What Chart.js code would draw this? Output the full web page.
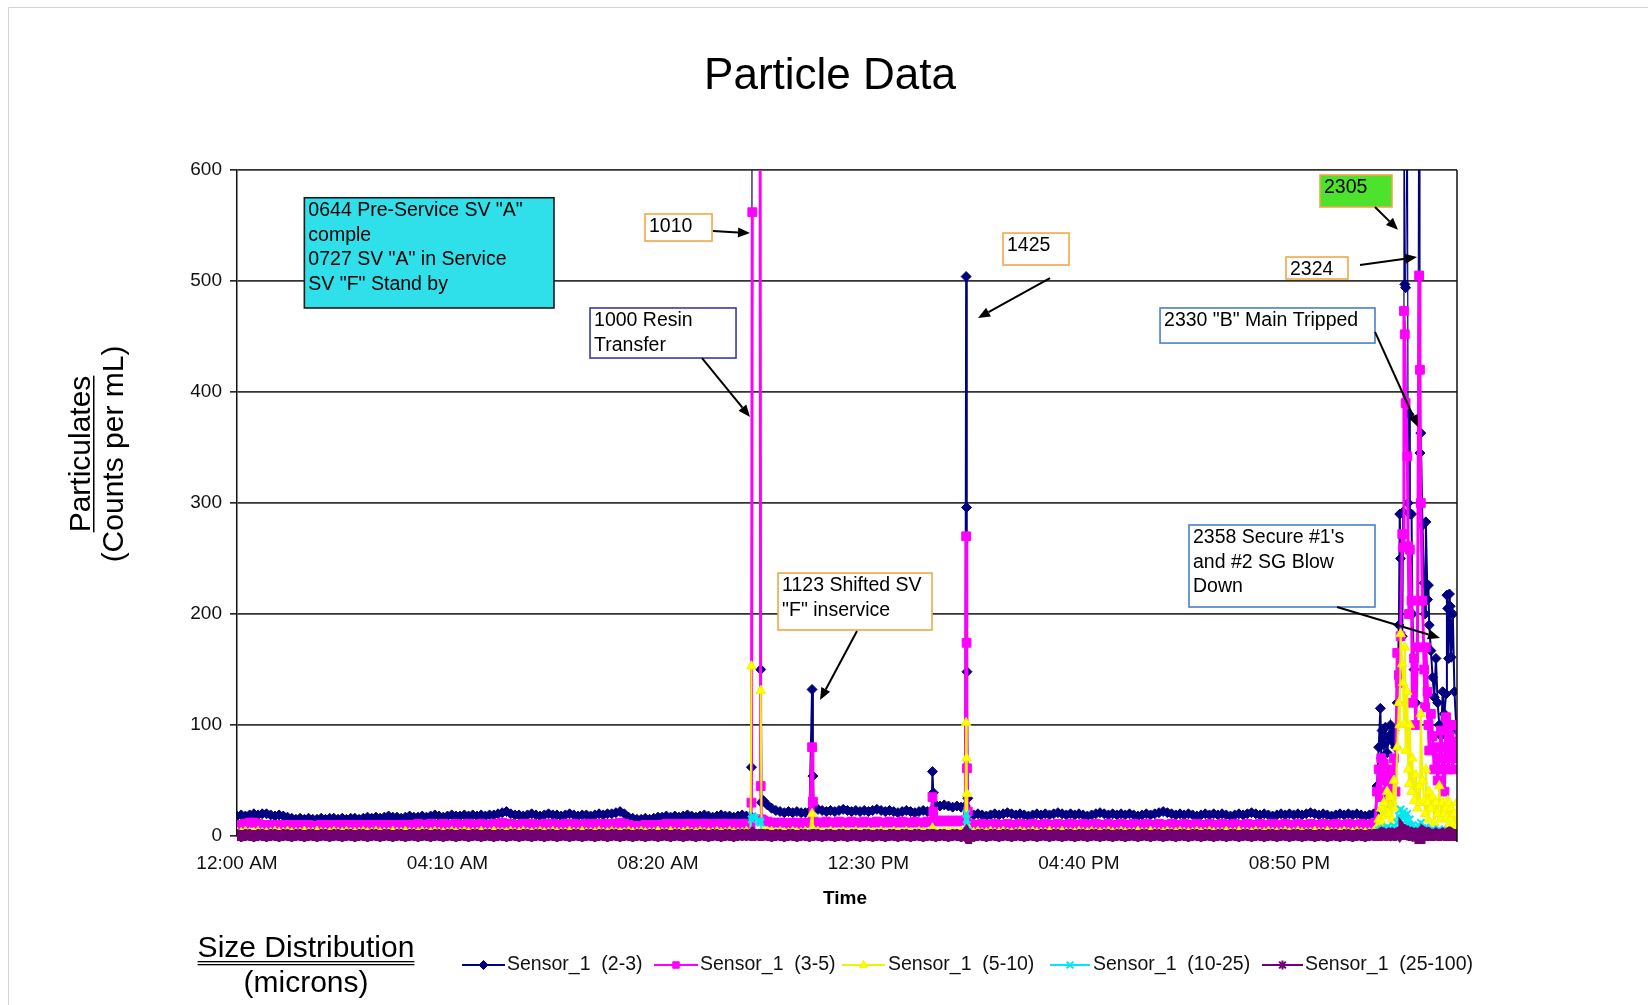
<!DOCTYPE html>
<html><head><meta charset="utf-8">
<style>html,body{margin:0;padding:0;background:#fff;}canvas{display:block;}</style>
<script src="https://cdn.jsdelivr.net/npm/chart.js"></script>
</head><body>
<canvas id="c" width="1648" height="1005"></canvas>
<script>
// ---------------- DATA ----------------
const tickMinutes = [0, 250, 500, 750, 1000, 1250];
const tickLabels = ['12:00 AM', '04:10 AM', '08:20 AM', '12:30 PM', '04:40 PM', '08:50 PM'];
const seriesNames = ['Sensor_1  (2-3)', 'Sensor_1  (3-5)', 'Sensor_1  (5-10)', 'Sensor_1  (10-25)', 'Sensor_1  (25-100)'];

// regular readings every 5 minutes from 12:00 AM to 10:30 PM (index * 5 = minutes)
const baseStep = 5;
const base23 = [
18,19,18,19,20,19,20,20,19,18, 19,18,17,16,15,16,15,16,15,15, 16,15,16,16,15,16,15,16,16,15, 16,17,16,17,16,17,18,17,17,16,
17,18,17,17,18,17,18,19,18,17, 18,19,18,18,19,18,19,18,19,18, 19,19,20,21,22,20,19,19,18,19, 20,19,18,19,20,19,19,18,19,20,
19,18,19,19,18,19,20,19,20,20, 21,22,20,17,16,15,15,16,15,16, 17,17,18,17,18,17,18,19,18,17, 18,19,18,17,18,19,18,18,17,18,
19,18,18,1100,1000,32,28,25,23,22, 21,22,21,22,21,21,22,26,24,23, 22,23,22,23,24,23,22,23,22,23, 22,23,24,23,22,23,22,21,22,23,
22,21,22,23,22,23,28,27,28,27, 26,27,26,27,20,19,20,19,18,19, 20,19,20,21,20,19,20,19,18,19, 20,19,20,19,20,21,20,19,20,19,
20,19,18,19,20,21,20,19,20,19, 20,19,20,19,18,19,20,19,20,21, 22,21,20,19,20,19,20,19,18,19, 20,19,20,19,20,19,18,19,20,19,
20,21,20,19,20,19,18,19,20,19, 20,19,20,19,20,21,20,19,20,19, 18,19,20,19,20,19,20,19,18,19, 20];
const base35 = [
10,10,11,12,12,11,10,10,10,10, 10,10,10,10,9,10,9,10,9,9, 10,9,10,10,9,10,9,10,10,9, 10,10,9,10,10,10,10,10,10,10,
10,10,10,11,10,10,11,10,10,11, 10,10,11,10,10,11,10,10,11,10, 10,11,11,12,11,11,10,10,11,10, 11,10,10,11,10,11,10,10,11,10,
11,10,10,11,10,11,10,11,10,11, 11,12,11,10,9,9,9,10,9,10, 10,10,11,10,11,10,11,10,11,10, 11,11,10,11,10,11,11,10,11,10,
11,11,11,null,null,14,13,12,12,12, 12,11,12,12,11,12,12,13,12,12, 13,12,12,13,12,12,13,12,12,13, 12,12,13,12,12,13,12,12,13,12,
12,13,12,12,13,13,14,13,14,13, 14,13,14,14,11,10,10,11,10,10, 11,10,10,11,10,10,11,10,10,11, 10,10,11,10,10,11,10,10,11,10,
10,11,10,10,11,10,10,11,10,10, 11,10,10,11,10,10,11,10,10,11, 10,10,11,10,10,11,10,10,11,10, 10,11,10,10,11,10,10,11,10,10,
11,10,10,11,10,10,11,10,10,11, 10,10,11,10,10,11,10,10,11,10, 10,11,10,10,11,10,10,11,10,10, 11];
const base510 = [
3,3,4,3,3,4,3,3,3,4, 3,3,4,3,3,3,4,3,3,4, 3,3,3,4,3,3,4,3,3,3, 4,3,3,4,3,3,3,4,3,3,
4,3,3,3,4,3,3,4,3,3, 3,4,3,3,4,3,3,3,4,3, 3,4,3,3,3,4,3,3,4,3, 3,3,4,3,3,4,3,3,3,4,
3,3,4,3,3,3,4,3,3,4, 3,3,3,4,3,3,4,3,3,3, 4,3,3,4,3,3,3,4,3,3, 4,3,3,3,4,3,3,4,3,3,
3,4,3,null,null,5,4,4,3,4, 3,3,4,3,3,4,3,3,4,3, 3,4,3,3,4,3,3,4,3,3, 4,3,3,4,3,3,4,3,3,4,
3,3,4,3,3,4,4,3,4,3, 4,3,4,4,3,3,4,3,3,4, 3,3,4,3,3,3,4,3,3,4, 3,3,3,4,3,3,4,3,3,3,
4,3,3,4,3,3,3,4,3,3, 4,3,3,3,4,3,3,4,3,3, 3,4,3,3,4,3,3,3,4,3, 3,4,3,3,3,4,3,3,4,3,
3,3,4,3,3,4,3,3,3,4, 3,3,4,3,3,3,4,3,3,4, 3,3,3,4,3,3,4,3,3,3, 4];
const base1025 = [
1,2,1,1,2,1,1,2,1,1, 2,1,1,2,1,1,2,1,1,2, 1,1,2,1,1,2,1,1,2,1, 1,2,1,1,2,1,1,2,1,1,
2,1,1,2,1,1,2,1,1,2, 1,1,2,1,1,2,1,1,2,1, 1,2,1,1,2,1,1,2,1,1, 2,1,1,2,1,1,2,1,1,2,
1,1,2,1,1,2,1,1,2,1, 1,2,1,1,2,1,1,2,1,1, 2,1,1,2,1,1,2,1,1,2, 1,1,2,1,1,2,1,1,2,1,
1,2,1,16,13,3,2,2,1,2, 1,1,2,1,1,2,1,1,2,1, 1,2,1,1,2,1,1,2,1,1, 2,1,1,2,1,1,2,1,1,2,
1,1,2,1,1,2,2,1,2,1, 2,1,2,2,1,1,2,1,1,2, 1,1,2,1,1,2,1,1,2,1, 1,2,1,1,2,1,1,2,1,1,
2,1,1,2,1,1,2,1,1,2, 1,1,2,1,1,2,1,1,2,1, 1,2,1,1,2,1,1,2,1,1, 2,1,1,2,1,1,2,1,1,2,
1,1,2,1,1,2,1,1,2,1, 1,2,1,1,2,1,1,2,1,1, 2,1,1,2,1,1,2,1,1,2, 1];
const base25100 = [
1,0,1,1,0,1,1,0,1,1, 0,1,1,0,1,1,0,1,1,0, 1,1,0,1,1,0,1,1,0,1, 1,0,1,1,0,1,1,0,1,1,
0,1,1,0,1,1,0,1,1,0, 1,1,0,1,1,0,1,1,0,1, 1,0,1,1,0,1,1,0,1,1, 0,1,1,0,1,1,0,1,1,0,
1,1,0,1,1,0,1,1,0,1, 1,0,1,1,0,1,1,0,1,1, 0,1,1,0,1,1,0,1,1,0, 1,1,0,1,1,0,1,1,0,1,
1,1,1,1,1,1,1,0,1,1, 0,1,1,0,1,1,0,1,1,0, 1,1,0,1,1,0,1,1,0,1, 1,0,1,1,0,1,1,0,1,1,
0,1,1,0,1,1,0,1,1,0, 1,1,0,1,1,0,1,1,0,1, 1,0,1,1,0,1,1,0,1,1, 0,1,1,0,1,1,0,1,1,0,
1,1,0,1,1,0,1,1,0,1, 1,0,1,1,0,1,1,0,1,1, 0,1,1,0,1,1,0,1,1,0, 1,1,0,1,1,0,1,1,0,1,
1,0,1,1,0,1,1,0,1,1, 0,1,1,0,1,1,0,1,1,0, 1,1,0,1,1,0,1,1,0,1, 1];

// extra readings around the events (minutes since midnight)
const eventTimes = [611, 612, 613, 621, 622, 623, 683, 684, 826, 827, 866, 866.5, 867, 868];
const event23    = [62, 900, 1000, 800, 150, 30, 132, 54, 58, 39, 504, 296, 148, 34];
const event35    = [30, 562, null, 900, 45, 15, 80, 31, 35, 22, 270, 174, 61, 22];
const event510   = [153, null, null, null, 131, 5, 20, 6, 7, 5, 102, 70, 38, 8];
const event1025  = [15, 18, 17, 14, 12, 3, 3, 2, 3, 2, 20, 15, 10, 4];
const event25100 = [1, 1, 2, 1, 1, 1, 1, 1, 1, 1, 2, 1, 1, 1];

// late-evening burst (22:32 to 24:09)
const clusterTimes = [1352,1354,1356,1358,1359,1360,1362,1364,1366,1368,1370,1372,1374,1376,1378,1380,1381,1382,1384,1385,1386,1387,1388,1390,1391,1392,1393,1395,1396,1398,1400,1402,1404,1405,1406,1408,1410,1411,1412,1414,1415,1416,1418,1420,1422,1424,1426,1428,1430,1432,1434,1436,1437,1438,1439,1440,1441,1442,1444,1446,1448,1449];
const cluster23 = [20,45,80,115,70,95,82,98,75,90, 100,85,95,80,120,190,290,250,180,292, 720,497,494,680,300,380,290,290,200,150, 120,170,820,345,363,280,228,200,283,213, 226,190,167,143,125,160,120,100,90,130, 110,128,217,205,160,218,207,161,200,130, 100,95];
const cluster35 = [12,40,60,35,70,50,65,40,55,30, 60,45,70,40,165,145,138,180,272,260, 473,452,390,342,261,200,258,212,120,160, 100,170,505,420,300,212,150,116,170,130, 100,77,110,90,60,80,50,70,95,60, 40,107,80,100,60,90,70,100,60,85, 70,100];
const cluster510 = [3,8,15,10,25,12,30,18,40,20, 35,15,50,25,80,120,100,182,155,138, 101,170,77,130,60,47,100,40,70,32, 55,25,45,30,110,50,32,20,60,30, 15,40,25,35,12,30,20,45,15,30, 20,25,17,32,10,30,15,25,10,20, 8,30];
const cluster1025 = [1,3,5,4,6,5,7,4,8,5, 7,4,9,6,12,18,15,24,20,16, 22,18,14,20,10,8,15,7,10,5, 8,4,9,6,12,7,5,3,8,4, 3,5,3,6,2,4,3,6,2,4, 3,4,2,5,2,4,2,3,2,3, 1,3];
const cluster25100 = [1,1,1,2,1,1,2,1,1,2, 1,2,1,1,2,3,2,3,2,2, 3,2,2,3,2,1,2,1,2,1, 2,1,2,1,2,1,1,1,2,1, 1,2,1,1,1,2,1,1,1,2, 1,1,1,2,1,1,1,2,1,1, 1,1];

// annotation texts
const noteTexts = [
  ['0644 Pre-Service SV "A"', 'comple', '0727 SV "A" in Service', 'SV "F" Stand by'],
  ['1010'],
  ['1000 Resin', 'Transfer'],
  ['1425'],
  ['1123 Shifted SV', '"F" inservice'],
  ['2305'],
  ['2324'],
  ['2330 "B" Main Tripped'],
  ["2358 Secure #1's", 'and #2 SG Blow', 'Down']
];

// ---------------- BUILD ----------------
const FONT = "'Liberation Sans', Arial, Helvetica, sans-serif";
function buildSeries(base, ev, cl) {
  const pts = [];
  base.forEach((v, i) => pts.push({x: i * baseStep, y: v}));
  ev.forEach((v, i) => pts.push({x: eventTimes[i], y: v}));
  cl.forEach((v, i) => pts.push({x: clusterTimes[i], y: v}));
  pts.sort((a, b) => a.x - b.x);
  return pts;
}
const seriesData = [
  buildSeries(base23, event23, cluster23),
  buildSeries(base35, event35, cluster35),
  buildSeries(base510, event510, cluster510),
  buildSeries(base1025, event1025, cluster1025),
  buildSeries(base25100, event25100, cluster25100)
];
const styles = [
  {color: '#000080', fill: '#000080', point: 'rectRot', r: 5, bw: 2, pbw: 1, order: 5},
  {color: '#ff00ff', fill: '#ff00ff', point: 'rect', r: 6.2, bw: 3, pbw: 1, order: 4},
  {color: '#f2f200', fill: '#ffff00', point: 'triangle', r: 5.5, bw: 2, pbw: 1, order: 3},
  {color: '#00e8f0', fill: '#00ffff', point: 'crossRot', r: 5, bw: 1.5, pbw: 2, order: 2},
  {color: '#730073', fill: '#730073', point: 'star', r: 6, bw: 11, pbw: 2.5, order: 1}
];

// annotation geometry in data units [t0, v0, t1, v1] and arrows [t0,v0,t1,v1]
const noteGeom = [
  {box: [80, 575, 376.5, 475.7], fill: '#2fe0ea', stroke: '#1a1a1a'},
  {box: [484.6, 560.4, 564.2, 536], fill: '#fff', stroke: '#f0a848', arrow: [565.3, 545, 609.3, 543.2]},
  {box: [419.3, 475.7, 592.7, 430.6], fill: '#fff', stroke: '#3a3aa0', arrow: [552.3, 430.6, 609.3, 377.5]},
  {box: [909.8, 543.2, 988.2, 514.4], fill: '#fff', stroke: '#f0a848', arrow: [965.6, 502.7, 880.1, 466.7]},
  {box: [642.6, 236.9, 825.5, 185.6], fill: '#fff', stroke: '#f0a848', arrow: [736.4, 184.7, 692.5, 122.5]},
  {box: [1286.3, 595.5, 1371.8, 566.7], fill: '#4de22c', stroke: '#f0a848', arrow: [1351.6, 566.7, 1378.9, 546.1]},
  {box: [1245.9, 521.6, 1319.5, 501.8], fill: '#fff', stroke: '#f0a848', arrow: [1333.8, 514.4, 1401.5, 521.6]},
  {box: [1096.3, 475.7, 1351.6, 444.1], fill: '#fff', stroke: '#4a80c8', arrow: [1351.6, 454.1, 1402.7, 368.5]},
  {box: [1130.7, 280.2, 1351.6, 206.3], fill: '#fff', stroke: '#4a80c8', arrow: [1306.5, 206.3, 1428.8, 178.4]}
];

function drawMarker(ctx, style, x, y, r, color, fill) {
  ctx.save();
  ctx.fillStyle = fill; ctx.strokeStyle = color; ctx.lineWidth = 1;
  ctx.beginPath();
  if (style === 'rectRot') {
    ctx.moveTo(x, y - r); ctx.lineTo(x + r, y); ctx.lineTo(x, y + r); ctx.lineTo(x - r, y); ctx.closePath(); ctx.fill(); ctx.stroke();
  } else if (style === 'rect') {
    const s = r * 0.72; ctx.rect(x - s, y - s, 2 * s, 2 * s); ctx.fill(); ctx.stroke();
  } else if (style === 'triangle') {
    ctx.moveTo(x, y - r); ctx.lineTo(x + r * 0.87, y + r * 0.5); ctx.lineTo(x - r * 0.87, y + r * 0.5); ctx.closePath(); ctx.fill(); ctx.stroke();
  } else if (style === 'crossRot') {
    ctx.lineWidth = 2; const s = r * 0.75;
    ctx.moveTo(x - s, y - s); ctx.lineTo(x + s, y + s); ctx.moveTo(x + s, y - s); ctx.lineTo(x - s, y + s); ctx.stroke();
  } else if (style === 'star') {
    ctx.lineWidth = 2; const s = r * 0.75;
    ctx.moveTo(x - s, y - s); ctx.lineTo(x + s, y + s); ctx.moveTo(x + s, y - s); ctx.lineTo(x - s, y + s);
    ctx.moveTo(x, y - r); ctx.lineTo(x, y + r); ctx.moveTo(x - r, y); ctx.lineTo(x + r, y); ctx.stroke();
  }
  ctx.restore();
}

function arrow(ctx, x1, y1, x2, y2) {
  const ang = Math.atan2(y2 - y1, x2 - x1), L = 12, W = 5;
  const bx = x2 - L * Math.cos(ang), by = y2 - L * Math.sin(ang);
  ctx.save();
  ctx.strokeStyle = '#000'; ctx.fillStyle = '#000'; ctx.lineWidth = 2;
  ctx.beginPath(); ctx.moveTo(x1, y1); ctx.lineTo(bx, by); ctx.stroke();
  ctx.beginPath(); ctx.moveTo(x2, y2);
  ctx.lineTo(bx + W * Math.sin(ang), by - W * Math.cos(ang));
  ctx.lineTo(bx - W * Math.sin(ang), by + W * Math.cos(ang));
  ctx.closePath(); ctx.fill();
  ctx.restore();
}

const deco = {
  id: 'deco',
  afterDraw(chart) {
    const {ctx, chartArea: a} = chart;
    const xs = chart.scales.x, ys = chart.scales.y;
    const px = t => xs.getPixelForValue(t), py = v => ys.getPixelForValue(v);
    ctx.save();
    // outer light frame
    ctx.strokeStyle = '#d4d4d4'; ctx.lineWidth = 1;
    ctx.beginPath(); ctx.moveTo(8.5, 1005); ctx.lineTo(8.5, 7.5); ctx.lineTo(1648, 7.5); ctx.stroke();
    // right plot border
    ctx.strokeStyle = '#111'; ctx.lineWidth = 1.5;
    ctx.beginPath(); ctx.moveTo(a.right, a.top); ctx.lineTo(a.right, a.bottom + 6); ctx.stroke();

    ctx.fillStyle = '#000';
    // title
    ctx.font = '44px ' + FONT; ctx.textAlign = 'center'; ctx.textBaseline = 'middle';
    ctx.fillText('Particle Data', 830, 77);
    // x title
    ctx.font = 'bold 19px ' + FONT;
    ctx.fillText('Time', 845, 899);
    // y title
    ctx.save();
    ctx.translate(79, 454); ctx.rotate(-Math.PI / 2);
    ctx.font = '30px ' + FONT; ctx.textBaseline = 'alphabetic';
    ctx.fillText('Particulates', 0, 11);
    const pw = ctx.measureText('Particulates').width;
    ctx.fillRect(-pw / 2, 14, pw, 1.5);
    ctx.fillText('(Counts per mL)', 0, 44);
    ctx.restore();
    // Size distribution label
    ctx.font = '30px ' + FONT; ctx.textAlign = 'center'; ctx.textBaseline = 'alphabetic';
    ctx.fillText('Size Distribution', 306, 957);
    const sw = ctx.measureText('Size Distribution').width;
    ctx.fillRect(306 - sw / 2, 961, sw, 1.3);
    ctx.fillRect(306 - sw / 2, 964, sw, 1.3);
    ctx.fillText('(microns)', 306, 992);

    // legend
    const legX = [[462, 505, 507], [654, 698, 700], [842, 885, 888], [1050, 1090, 1093], [1262, 1303, 1305]];
    const ly = 965;
    ctx.font = '19.5px ' + FONT; ctx.textAlign = 'left'; ctx.textBaseline = 'middle';
    seriesNames.forEach((n, i) => {
      const st = styles[i], [x0, x1, tx] = legX[i];
      ctx.strokeStyle = st.color; ctx.lineWidth = 2;
      ctx.beginPath(); ctx.moveTo(x0, ly); ctx.lineTo(x1, ly); ctx.stroke();
      drawMarker(ctx, st.point, (x0 + x1) / 2, ly, 4.5, st.color, st.fill);
      ctx.fillStyle = '#111';
      ctx.fillText(n, tx, ly);
    });

    // annotations
    ctx.font = '19.5px ' + FONT; ctx.textAlign = 'left'; ctx.textBaseline = 'middle';
    noteGeom.forEach((g, i) => {
      const x0 = px(g.box[0]), y0 = py(g.box[1]), x1 = px(g.box[2]), y1 = py(g.box[3]);
      ctx.fillStyle = g.fill; ctx.fillRect(x0, y0, x1 - x0, y1 - y0);
      ctx.strokeStyle = g.stroke; ctx.lineWidth = 1.6; ctx.strokeRect(x0, y0, x1 - x0, y1 - y0);
      ctx.fillStyle = '#000';
      noteTexts[i].forEach((line, k) => ctx.fillText(line, x0 + 4, y0 + 13 + k * 24.5));
      if (g.arrow) arrow(ctx, px(g.arrow[0]), py(g.arrow[1]), px(g.arrow[2]), py(g.arrow[3]));
    });
    ctx.restore();
  }
};

const offChart = c => c.p0.parsed.y > 600 || c.p1.parsed.y > 600;

new Chart(document.getElementById('c'), {
  type: 'line',
  data: {
    datasets: seriesData.map((d, i) => ({
      label: seriesNames[i],
      data: d,
      borderColor: styles[i].color,
      backgroundColor: styles[i].fill,
      pointBackgroundColor: styles[i].fill,
      pointBorderColor: styles[i].color,
      pointStyle: styles[i].point,
      pointRadius: styles[i].r,
      pointBorderWidth: styles[i].pbw,
      borderWidth: styles[i].bw,
      tension: 0,
      spanGaps: false,
      order: styles[i].order,
      segment: i === 0 ? {borderWidth: c => offChart(c) ? 1.2 : undefined} : undefined,
      clip: {left: 0, top: 0, right: 0, bottom: 8}
    }))
  },
  options: {
    responsive: false,
    animation: false,
    devicePixelRatio: 1,
    events: [],
    layout: {padding: {left: 0, top: 170, right: 191, bottom: 0}},
    scales: {
      x: {
        type: 'linear', min: 0, max: 1449,
        afterBuildTicks: s => { s.ticks = tickMinutes.map(v => ({value: v})); },
        afterFit: s => { s.height = 169; },
        ticks: {
          callback: (v, i) => tickLabels[i],
          font: {family: FONT, size: 19}, color: '#111', padding: 16,
          maxRotation: 0, autoSkip: false
        },
        grid: {display: false, drawTicks: false},
        border: {display: false}
      },
      y: {
        min: 0, max: 600,
        afterFit: s => { s.width = 237; },
        ticks: {stepSize: 100, font: {family: FONT, size: 19}, color: '#111', padding: 8},
        grid: {color: '#333', lineWidth: 1.7, tickLength: 7, tickColor: '#111', tickWidth: 1.5},
        border: {display: true, color: '#111', width: 1.5}
      }
    },
    plugins: {legend: {display: false}, tooltip: {enabled: false}, title: {display: false}}
  },
  plugins: [deco]
});
</script>
</body></html>
